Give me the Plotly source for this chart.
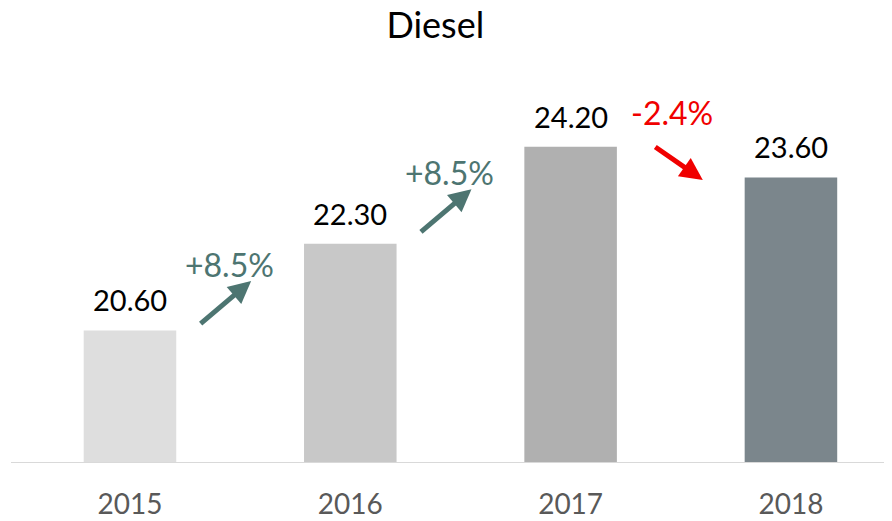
import plotly.graph_objects as go

years = ['2015', '2016', '2017', '2018']
prices = [20.60, 22.30, 24.20, 23.60]
changes = ['+8.5%', '+8.5%', '-2.4%']
bar_colors = ['#dedede', '#c8c8c8', '#b0b0b0', '#7b868c']

FONT = 'Lato, Carlito, Calibri, sans-serif'
GREEN = '#4d7571'
RED = '#f00000'

fig = go.Figure()
fig.add_trace(go.Bar(x=list(range(len(years))), y=prices, width=0.42,
                     marker=dict(color=bar_colors, line=dict(width=0)),
                     hoverinfo='skip'))

annotations = []
# value labels above bars
for i, v in enumerate(prices):
    annotations.append(dict(x=i, y=v, text='%.2f' % v, showarrow=False,
                            yanchor='bottom', yshift=11,
                            font=dict(size=29, color='black', family=FONT)))

# change arrows between bars
for i, ch in enumerate(changes):
    mid = (prices[i] + prices[i + 1]) / 2
    up = prices[i + 1] > prices[i]
    col = GREEN if up else RED
    if up:
        annotations.append(dict(x=i + 0.55, y=mid + 0.12, ax=-52, ay=44,
                                showarrow=True, arrowhead=2, arrowsize=0.9,
                                arrowwidth=5, arrowcolor=col, text=''))
        annotations.append(dict(x=i + 0.45, y=mid + 0.44, text=ch, showarrow=False,
                                font=dict(size=32, color=col, family=FONT)))
    else:
        annotations.append(dict(x=i + 0.6, y=mid - 0.35, ax=-49, ay=-34,
                                showarrow=True, arrowhead=2, arrowsize=0.9,
                                arrowwidth=5, arrowcolor=col, text=''))
        annotations.append(dict(x=i + 0.46, y=mid + 0.98, text=ch, showarrow=False,
                                font=dict(size=32, color=col, family=FONT)))

fig.update_layout(
    width=892, height=521,
    margin=dict(l=3, r=0, t=47, b=66),
    paper_bgcolor='white', plot_bgcolor='white',
    showlegend=False,
    title=dict(text='Diesel', x=0.479, xanchor='center', y=0.966, yanchor='middle',
               font=dict(size=36, color='black', family=FONT)),
    xaxis=dict(range=[-0.54, 3.495], tickvals=list(range(len(years))), ticktext=years,
               showgrid=False, zeroline=False, showline=False, ticks='',
               ticklabelstandoff=22,
               tickfont=dict(size=28, color='#595959', family=FONT)),
    yaxis=dict(range=[18, 26], visible=False, showgrid=False, zeroline=False),
    annotations=annotations,
    shapes=[dict(type='line', xref='paper', yref='y', x0=0, x1=1, y0=18, y1=18,
                 line=dict(color='#d9d9d9', width=2))],
)

fig.write_html("out.html")
